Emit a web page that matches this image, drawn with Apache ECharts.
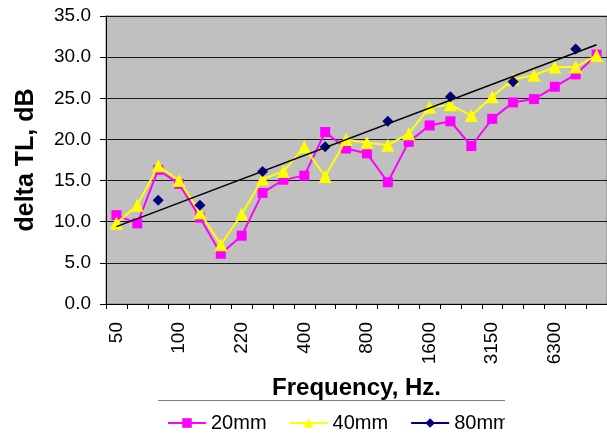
<!DOCTYPE html>
<html>
<head>
<meta charset="utf-8">
<script src="https://cdn.jsdelivr.net/npm/echarts@6/dist/echarts.min.js"></script>
<style>
  html, body { margin: 0; padding: 0; background: #fff; overflow: hidden; }
  #chart { width: 607px; height: 436px; }
</style>
</head>
<body>
<div id="chart"></div>
<script>
// 1/3 octave bands
const frequencies = ['50', '63', '80', '100', '125', '160', '220', '250', '315', '400', '500', '630',
  '800', '1000', '1250', '1600', '2000', '2500', '3150', '4000', '5000', '6300', '8000', '10000'];

const tl20mm = [10.8, 9.8, 16.3, 14.6, 10.5, 6.1, 8.3, 13.5, 15.1, 15.6, 20.9, 18.9,
  18.3, 14.8, 19.7, 21.7, 22.2, 19.2, 22.5, 24.5, 24.9, 26.4, 27.9, 30.3];
const tl40mm = [9.8, 12.0, 16.8, 15.0, 11.1, 7.2, 10.9, 15.2, 16.1, 19.1, 15.5, 20.0,
  19.6, 19.3, 20.7, 23.9, 24.2, 22.9, 25.2, 27.3, 27.8, 28.8, 28.8, 30.2];
const tl80mm = [null, null, 12.6, null, 12.0, null, null, 16.1, null, null, 19.1, null,
  null, 22.2, null, null, 25.2, null, null, 27.0, null, null, 31.0, null];
// linear trendline of the 80mm series (end values only)
const trend80mm = [9.4, null, null, null, null, null, null, null, null, null, null, null,
  null, null, null, null, null, null, null, null, null, null, null, 31.5];

const font = 'Liberation Sans, Arial, sans-serif';

const chart = echarts.init(document.getElementById('chart'));

chart.setOption({
  animation: false,
  backgroundColor: '#fff',
  textStyle: { fontFamily: font, color: '#000' },
  grid: {
    left: 106, top: 16, right: -8, bottom: 132,
    show: true,
    backgroundColor: '#c0c0c0',
    borderColor: '#808080',
    borderWidth: 1
  },
  legend: {
    data: ['20mm', '40mm', '80mm'],
    left: 162,
    top: 408,
    itemWidth: 38,
    itemHeight: 12,
    itemGap: 22,
    textStyle: { fontFamily: font, fontSize: 20, color: '#000' },
    z: 10
  },
  // legend box: only its top edge shows, it hides the bottom of the axis title
  // and the box is cut off on the right
  graphic: [
    {
      type: 'group',
      z: 5,
      children: [
        { type: 'rect', shape: { x: 158, y: 401, width: 347, height: 40 }, style: { fill: '#fff' } },
        { type: 'line', shape: { x1: 158, y1: 400.5, x2: 505, y2: 400.5 }, style: { stroke: '#808080', lineWidth: 1 } }
      ]
    },
    {
      type: 'rect',
      z: 20,
      shape: { x: 505, y: 403, width: 110, height: 40 },
      style: { fill: '#fff' }
    }
  ],
  xAxis: {
    type: 'category',
    data: frequencies,
    boundaryGap: true,
    name: 'Frequency, Hz.',
    nameLocation: 'middle',
    nameGap: 72,
    nameTextStyle: { fontFamily: font, fontSize: 24, fontWeight: 'bold', color: '#000' },
    axisLine: { lineStyle: { color: '#000', width: 1 } },
    axisTick: { show: true, interval: 0, length: 5, inside: false, lineStyle: { color: '#000' } },
    axisLabel: {
      interval: 2,
      rotate: 90,
      margin: 18,
      fontSize: 19,
      fontFamily: font,
      color: '#000'
    },
    splitLine: { show: false }
  },
  yAxis: {
    type: 'value',
    min: 0,
    max: 35,
    interval: 5,
    name: 'delta TL, dB',
    nameLocation: 'middle',
    nameRotate: 90,
    nameGap: 67,
    nameTextStyle: { fontFamily: font, fontSize: 25, fontWeight: 'bold', color: '#000' },
    axisLine: { show: true, lineStyle: { color: '#000', width: 1 } },
    axisTick: { show: true, length: 6, lineStyle: { color: '#000' } },
    axisLabel: {
      margin: 15,
      fontSize: 19,
      fontFamily: font,
      color: '#000',
      formatter: v => v.toFixed(1)
    },
    splitLine: { show: true, lineStyle: { color: '#1a1a1a', width: 1 } }
  },
  series: [
    {
      name: '20mm',
      type: 'line',
      data: tl20mm,
      symbol: 'rect',
      symbolSize: 10,
      showAllSymbol: true,
      lineStyle: { color: '#ff00ff', width: 2 },
      itemStyle: { color: '#ff00ff' },
      z: 2
    },
    {
      name: '40mm',
      type: 'line',
      data: tl40mm,
      symbol: 'triangle',
      symbolSize: 13,
      showAllSymbol: true,
      lineStyle: { color: '#ffff00', width: 2 },
      itemStyle: { color: '#ffff00' },
      z: 3
    },
    {
      name: '80mm',
      type: 'line',
      data: tl80mm,
      symbol: 'diamond',
      symbolSize: 11,
      showAllSymbol: true,
      connectNulls: false,
      lineStyle: { color: '#000080', width: 2 },
      itemStyle: { color: '#000080' },
      z: 4
    },
    {
      name: 'trend',
      type: 'line',
      data: trend80mm,
      connectNulls: true,
      symbol: 'none',
      lineStyle: { color: '#000', width: 1.5 },
      silent: true,
      z: 5
    }
  ]
});
</script>
</body>
</html>
